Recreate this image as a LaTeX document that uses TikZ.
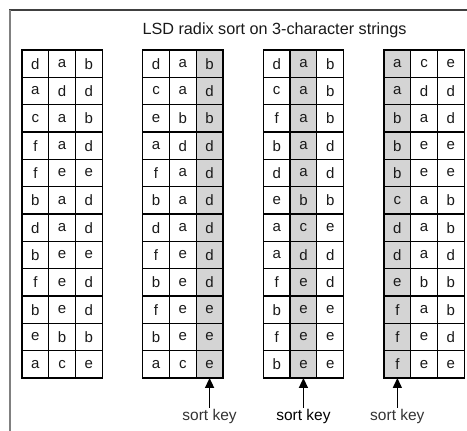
\documentclass[tikz,border=0pt]{standalone}
\usepackage{fontspec}
\setmainfont{Liberation Sans}
\usetikzlibrary{arrows.meta}
\definecolor{keygray}{HTML}{D4D4D4}
\definecolor{framegray}{HTML}{808080}
\newcommand{\drawtable}[4]{%
  \foreach \a/\b/\c [count=\i] in {#4} {%
    \foreach \ch [count=\j] in {\a,\b,\c} {%
      \ifnum\j=#3\relax\def\cs{keycell}\else\def\cs{cell}\fi
      \node[\cs] (t#1-\i-\j) at ({#2+13.375+(\j-1)*26.75},{63.67+(\i-1)*27.33}) {\ch};
    }
  }%
}
\begin{document}
\begin{tikzpicture}[x=1pt,y=-1pt,
  cell/.style={draw=black, line width=1.2pt, minimum width=26.75pt, minimum height=27.33pt,
    inner sep=0pt, outer sep=0pt, text=black!90, font=\fontsize{15}{17}\selectfont},
  keycell/.style={cell, fill=keygray},
  keylabel/.style={inner sep=1pt, font=\fontsize{15.5}{17}\selectfont, text=black!80},
  keyarrow/.style={line width=1.4pt, black, -{Triangle[length=10pt,width=9pt]}},
  title/.style={font=\fontsize{16.2}{18}\selectfont, text=black!90}]
\useasboundingbox (0,0) rectangle (467,431);
\draw[line width=1.2pt, black!75] (9,10) -- (467,10);
\draw[line width=2pt, framegray] (10,10) -- (10,431);
\node[title] (ttl) at (274.5,30) {LSD radix sort on 3-character strings};
\drawtable{1}{22}{0}{d/a/b,a/d/d,c/a/b,f/a/d,f/e/e,b/a/d,d/a/d,b/e/e,f/e/d,b/e/d,e/b/b,a/c/e}
\drawtable{2}{142.7}{3}{d/a/b,c/a/d,e/b/b,a/d/d,f/a/d,b/a/d,d/a/d,f/e/d,b/e/d,f/e/e,b/e/e,a/c/e}
\drawtable{3}{263.3}{2}{d/a/b,c/a/b,f/a/b,b/a/d,d/a/d,e/b/b,a/c/e,a/d/d,f/e/d,b/e/e,f/e/e,b/e/e}
\drawtable{4}{384}{1}{a/c/e,a/d/d,b/a/d,b/e/e,b/e/e,c/a/b,d/a/b,d/a/d,e/b/b,f/a/b,f/e/d,f/e/e}
\node[keylabel, anchor=north] (sk2) at ([yshift=-30pt]t2-12-3.south) {sort key};
\node[keylabel, anchor=north, text=black] (sk3) at ([yshift=-30pt]t3-12-2.south) {sort key};
\node[keylabel, anchor=north] (sk4) at ([yshift=-30pt]t4-12-1.south) {sort key};
\draw[keyarrow] (sk2.north) -- (t2-12-3.south);
\draw[keyarrow] (sk3.north) -- (t3-12-2.south);
\draw[keyarrow] (sk4.north) -- (t4-12-1.south);
\end{tikzpicture}
\end{document}
